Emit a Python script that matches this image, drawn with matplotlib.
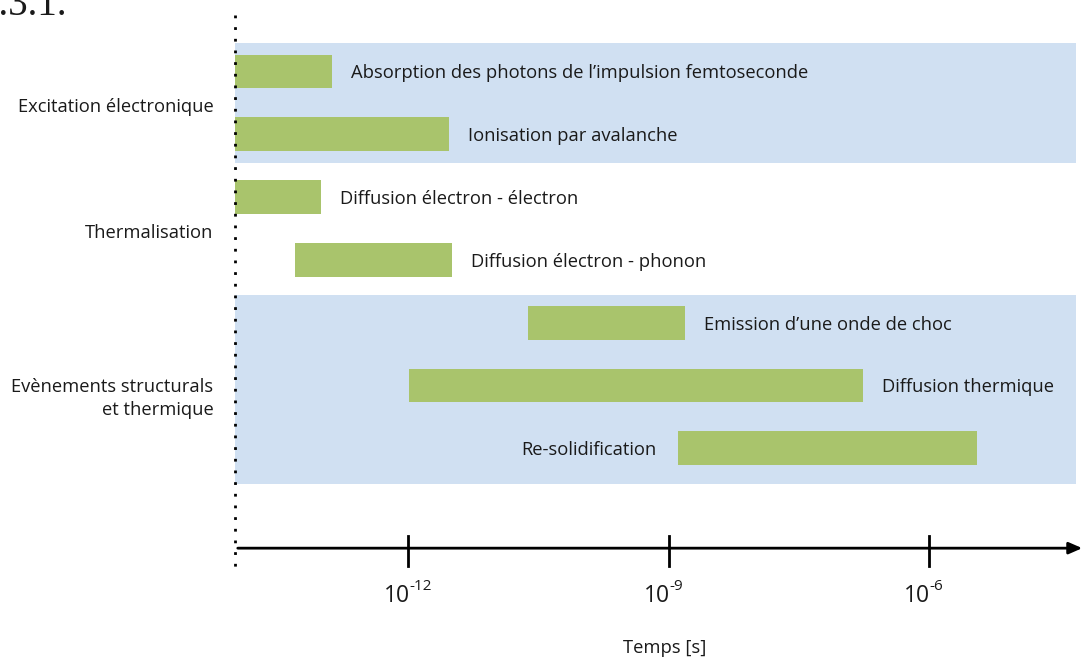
import matplotlib.pyplot as plt

plt.rcParams['font.family'] = ['Open Sans', 'DejaVu Sans']

# Données : log10(temps en s) début / fin de chaque processus
processus = ["Absorption des photons de l\u2019impulsion femtoseconde",
             "Ionisation par avalanche",
             "Diffusion \u00e9lectron - \u00e9lectron",
             "Diffusion \u00e9lectron - phonon",
             "Emission d\u2019une onde de choc",
             "Diffusion thermique",
             "Re-solidification"]
debut = [-14.0, -14.0, -14.0, -13.31, -10.62, -11.99, -8.89]
fin = [-12.88, -11.53, -13.01, -11.50, -8.81, -6.76, -5.44]
label_a_gauche = [False, False, False, False, False, False, True]

categories = ["Excitation \u00e9lectronique", "Thermalisation",
              "Ev\u00e8nements structurals\net thermique"]
cat_rangs = [(0, 1), (2, 3), (4, 6)]
cat_fond = [(-0.455, 1.455), None, (3.56, 6.57)]

ticks = [-12, -9, -6]
tick_exposants = ['-12', '-9', '-6']

vert = '#a9c46c'
bleu = '#d0e0f2'
texte = '#1a1a1a'
fs = 13.2

fig = plt.figure(figsize=(10.85, 6.57), dpi=100)
ax = fig.add_axes([235 / 1085, 0, 850 / 1085, 1])
ax.set_xlim(-14.0, -4.2)
ax.set_ylim(9.323, -1.1385)
ax.axis('off')

# Bandes de fond
for fond in cat_fond:
    if fond:
        ax.fill_between([-14.0, -4.30], fond[0], fond[1], color=bleu, lw=0, zorder=0)

# Barres
for i, (nom, d, f, gauche) in enumerate(zip(processus, debut, fin, label_a_gauche)):
    ax.barh(i, f - d, left=d, height=0.54, color=vert, zorder=2)
    if gauche:
        ax.text(d - 0.25, i + 0.03, nom, ha='right', va='center', fontsize=fs, color=texte)
    else:
        ax.text(f + 0.22, i + 0.03, nom, ha='left', va='center', fontsize=fs, color=texte)

# Catégories
for nom, (r0, r1) in zip(categories, cat_rangs):
    dy = 0.2 if r1 - r0 > 1 else 0.07
    ax.text(-14.25, (r0 + r1) / 2 + dy, nom, ha='right', va='center', fontsize=fs,
            color=texte, clip_on=False, linespacing=1.35)

# Ligne verticale pointillée
ax.plot([-14.0, -14.0], [-0.9, 7.95], color='black', lw=2, ls=(0, (1, 3.2)), zorder=3, clip_on=False)

# Axe du temps
y_axe = 7.59
ax.annotate('', xy=(-4.2, y_axe), xytext=(-14.0, y_axe),
            arrowprops=dict(arrowstyle='-|>,head_length=0.8,head_width=0.35', color='black', lw=2),
            annotation_clip=False)
for t, ex in zip(ticks, tick_exposants):
    ax.plot([t, t], [y_axe - 0.2, y_axe + 0.28], color='black', lw=2)
    ax.annotate('10', xy=(t, 8.35), xytext=(1, 0), textcoords='offset points',
                ha='right', va='center', fontsize=16.5, color=texte)
    ax.annotate(ex, xy=(t, 8.35), xytext=(0.5, 6.5), textcoords='offset points',
                ha='left', va='center', fontsize=11, color=texte)

ax.text(-9.05, 9.18, 'Temps [s]', ha='center', va='center', fontsize=fs, color=texte)

# Fragment du titre de section (coupé en haut)
fig.text(-0.019, 1.02, '1.3.1.', ha='left', va='top', fontsize=28,
         family='Liberation Serif', color=texte)

fig.savefig('out.png', dpi=100)
